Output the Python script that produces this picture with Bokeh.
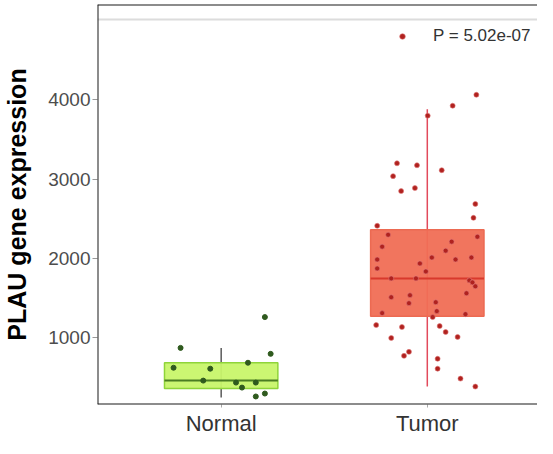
from bokeh.plotting import figure
from bokeh.models import Range1d, FixedTicker, Span, Legend, LegendItem, ColumnDataSource
from bokeh.embed import file_html
from bokeh.resources import INLINE

# ---- data ----
categories = ["Normal", "Tumor"]
positions = [1, 2]

lower_whisker = [250, 390]
q1 = [363, 1275]
median = [463, 1750]
q3 = [688, 2363]
upper_whisker = [875, 3880]

normal_values = [875, 1263, 800, 625, 613, 688, 463, 438, 375, 438, 263, 300]
normal_jitter = [-0.197, 0.212, 0.240, -0.231, -0.053, 0.130, -0.087, 0.072, 0.101, 0.168, 0.168, 0.212]

tumor_values = [4063, 3925, 3800, 3200, 3175, 3113, 3038, 2850, 2888, 2688,
                2513, 2413, 2300, 2275, 2150, 2213, 2100, 1988, 2013, 1988,
                2013, 1938, 1875, 1838, 1750, 1750, 1725, 1700, 1650, 1563,
                1513, 1538, 1438, 1450, 1338, 1313, 1300, 1263, 1163, 1138,
                1150, 1075, 1000, 1013, 825, 775, 738, 613, 488, 388]
tumor_jitter = [0.238, 0.123, 0.002, -0.147, -0.050, 0.070, -0.166, -0.127, -0.060, 0.233,
                0.224, -0.243, -0.190, 0.243, -0.219, 0.118, 0.089, -0.243, 0.022, 0.137,
                0.214, -0.036, -0.243, -0.007, -0.175, -0.055, 0.204, 0.219, 0.233, 0.190,
                -0.175, -0.084, -0.089, 0.041, 0.046, -0.219, 0.185, 0.026, -0.248, -0.123,
                0.060, 0.089, -0.175, 0.147, -0.089, -0.113, 0.050, 0.050, 0.161, 0.233]

y_ticks = [1000, 2000, 3000, 4000]
p_label = "P = 5.02e-07"
y_title = "PLAU gene expression"

box_width = 0.55
box_fill = ["#c8f56a", "#f06e55"]
box_line = ["#8fd43a", "#ec6a52"]
median_color = ["#4b7d22", "#d8392c"]
whisker_color = ["#5a5a5a", "#e24a5c"]
point_color = ["#2f5a1e", "#b0221f"]

X0, X1 = 0.4, 2.5346
Y0, Y1 = 162, 5200

p = figure(width=537, height=438,
           x_range=Range1d(X0, X1), y_range=Range1d(Y0, Y1),
           output_backend="svg", toolbar_location=None,
           min_border_left=93, min_border_right=0, min_border_top=4, min_border_bottom=31)

p.xgrid.visible = False
p.ygrid.visible = False
p.outline_line_color = None
p.background_fill_color = "white"

# light grey screenshot lines (top inside panel, bottom under panel)
p.add_layout(Span(location=5010, dimension="width", line_color="#dcdcdc", line_width=2))
p.add_layout(Span(location=12, dimension="width", line_color="#e2e2e2", line_width=2))

# panel border on left, top and bottom (right side is cut off in the reference)
for loc, dim in [(X0, "height"), (Y1, "width"), (Y0, "width")]:
    p.add_layout(Span(location=loc, dimension=dim, line_color="#1a1a1a", line_width=2))

src_box = ColumnDataSource(dict(
    x=positions, lo=lower_whisker, q1=q1, med=median, q3=q3, hi=upper_whisker,
    fill=box_fill, line=box_line, mcol=median_color, wcol=whisker_color,
    left=[x - box_width / 2 for x in positions], right=[x + box_width / 2 for x in positions],
))
p.segment(x0="x", y0="lo", x1="x", y1="hi", source=src_box, line_color="wcol", line_width=1.5)
p.vbar(x="x", bottom="q1", top="q3", width=box_width, source=src_box,
       fill_color="fill", line_color="line", line_width=1.5, fill_alpha=0.95)
p.segment(x0="left", y0="med", x1="right", y1="med", source=src_box, line_color="mcol", line_width=2)

# jittered points
p.scatter([positions[0] + j for j in normal_jitter], normal_values, size=5,
          fill_color=point_color[0], line_color=point_color[0])
tumor_pts = p.scatter([positions[1] + j for j in tumor_jitter], tumor_values, size=5,
                      fill_color=point_color[1], line_color="#e07a7a", line_alpha=0.6)

# legend-like P value label
legend = Legend(items=[LegendItem(label=p_label, renderers=[tumor_pts])],
                location=(298, 358), padding=0, margin=0, spacing=0,
                glyph_width=14, glyph_height=20, label_standoff=24,
                border_line_color=None, background_fill_alpha=0,
                label_text_font_size="17px", label_text_color="#333333",
                label_text_font="Liberation Sans")
p.add_layout(legend)

# y axis
p.yaxis.ticker = FixedTicker(ticks=y_ticks)
p.yaxis.axis_label = y_title
p.yaxis.axis_label_text_font = "Liberation Sans"
p.yaxis.axis_label_text_font_style = "bold"
p.yaxis.axis_label_text_font_size = "25px"
p.yaxis.axis_label_text_color = "black"
p.yaxis.axis_label_standoff = 14
p.yaxis.major_label_text_font = "Liberation Sans"
p.yaxis.major_label_text_font_size = "19px"
p.yaxis.major_label_text_color = "#4d4d4d"
p.yaxis.major_label_standoff = 2
p.yaxis.major_tick_out = 5
p.yaxis.major_tick_in = 0
p.yaxis.major_tick_line_color = "#999999"
p.yaxis.minor_tick_line_color = None
p.yaxis.axis_line_color = None

# x axis
p.xaxis.ticker = FixedTicker(ticks=positions)
p.xaxis.major_label_overrides = {pos: c for pos, c in zip(positions, categories)}
p.xaxis.major_label_text_font = "Liberation Sans"
p.xaxis.major_label_text_font_size = "22px"
p.xaxis.major_label_text_color = "#333333"
p.xaxis.major_label_standoff = 3
p.xaxis.major_tick_out = 3
p.xaxis.major_tick_in = 0
p.xaxis.major_tick_line_color = "#aaaaaa"
p.xaxis.minor_tick_line_color = None
p.xaxis.axis_line_color = None

open("out.html", "w").write(file_html(p, INLINE))
